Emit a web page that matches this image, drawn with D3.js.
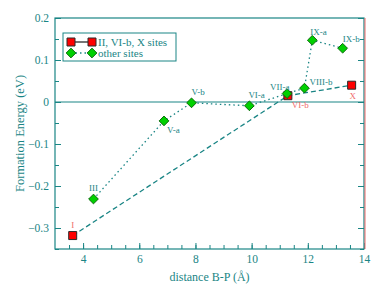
<!DOCTYPE html>
<html>
<head>
<meta charset="utf-8">
<script src="https://cdn.jsdelivr.net/npm/d3@7"></script>
<style>
  body { margin: 0; background: #fff; }
  svg, svg text { font-family: "Liberation Serif", "DejaVu Serif", "Times New Roman", serif !important; }
</style>
</head>
<body>
<svg id="chart"></svg>
<script>
// ---- Data ----
const redLabels = ['I', 'VI-b', 'X'];
const redX = [3.63, 11.29, 13.56];
const redY = [-0.318, 0.015, 0.04];

const greenLabels = ['III', 'V-a', 'V-b', 'VI-a', 'VII-a', 'VIII-b', 'IX-a', 'IX-b'];
const greenX = [4.37, 6.88, 7.86, 9.92, 11.26, 11.88, 12.16, 13.24];
const greenY = [-0.231, -0.045, -0.002, -0.009, 0.02, 0.033, 0.147, 0.128];

const xTicks = [4, 6, 8, 10, 12, 14];
const yTicks = [-0.3, -0.2, -0.1, 0, 0.1, 0.2];
const legendNames = ['II, VI-b, X sites', 'other sites'];

// label offsets (px) relative to each point
const labelOffset = {
  'I': [0, -8, 'middle'], 'VI-b': [4, 12, 'start'], 'X': [1, 14, 'middle'],
  'III': [0, -8, 'middle'], 'V-a': [3, 12, 'start'], 'V-b': [0, -8, 'start'],
  'VI-a': [-1, -8, 'start'], 'VII-a': [-17, -4, 'start'], 'VIII-b': [5, -3, 'start'],
  'IX-a': [-2, -5, 'start'], 'IX-b': [0, -6, 'start']
};

const W = 374, H = 285;
const margin = { top: 18, right: 10, bottom: 36, left: 55 };
const teal = '#1a8585';
const pink = '#f06a6a';
const serif = '"Liberation Serif", "DejaVu Serif", "Times New Roman", serif';

const svg = d3.select('#chart').attr('width', W).attr('height', H);

const x = d3.scaleLinear().domain([3, 14]).range([margin.left, W - margin.right]);
const y = d3.scaleLinear().domain([-0.35, 0.2]).range([H - margin.bottom, margin.top]);

const red = redX.map((v, i) => ({ x: v, y: redY[i], label: redLabels[i] }));
const green = greenX.map((v, i) => ({ x: v, y: greenY[i], label: greenLabels[i] }));

// ---- Axes ----
const g = svg.append('g');

// zero line
g.append('line')
  .attr('x1', x(3)).attr('x2', x(14))
  .attr('y1', y(0)).attr('y2', y(0))
  .attr('stroke', teal).attr('stroke-width', 1.2);

function inwardAxis(axis, transform) {
  const a = g.append('g').attr('transform', transform).call(axis)
    .attr('font-family', serif);
  a.select('.domain').remove();
  a.selectAll('line').attr('stroke', teal);
  a.selectAll('text').attr('fill', teal).style('font-size', '11.5px');
  return a;
}

const xMinor = d3.range(3.5, 14, 0.5);
const yMinor = d3.range(-0.35, 0.2001, 0.05);

inwardAxis(d3.axisBottom(x).tickValues(xMinor).tickSize(-4).tickFormat(''),
  `translate(0,${y(-0.35)})`);
inwardAxis(d3.axisBottom(x).tickValues(xTicks).tickSize(-6).tickPadding(6).tickFormat(d3.format('d')),
  `translate(0,${y(-0.35)})`);
inwardAxis(d3.axisLeft(y).tickValues(yMinor).tickSize(-4).tickFormat(''),
  `translate(${x(3)},0)`);
inwardAxis(d3.axisLeft(y).tickValues(yTicks).tickSize(-6).tickPadding(6).tickFormat(d => d === 0 ? '0' : d3.format('.1f')(d)),
  `translate(${x(3)},0)`);
inwardAxis(d3.axisRight(y).tickValues(yMinor).tickSize(-4).tickFormat(''),
  `translate(${x(14)},0)`);
inwardAxis(d3.axisRight(y).tickValues(yTicks).tickSize(-6).tickFormat(''),
  `translate(${x(14)},0)`);

// frame
g.append('rect')
  .attr('x', x(3)).attr('y', y(0.2))
  .attr('width', x(14) - x(3)).attr('height', y(-0.35) - y(0.2))
  .attr('fill', 'none').attr('stroke', teal).attr('stroke-width', 1.2);
g.append('line')
  .attr('x1', x(14) + 1).attr('x2', x(14) + 1)
  .attr('y1', y(0.2)).attr('y2', y(-0.35))
  .attr('stroke', pink).attr('stroke-width', 1);

// axis titles
svg.append('text')
  .attr('x', (x(3) + x(14)) / 2).attr('y', H - 4)
  .attr('text-anchor', 'middle').attr('fill', teal).style('font-size', '12px')
  .text('distance B-P  (Å)');
svg.append('text')
  .attr('transform', `translate(24,${(y(0.2) + y(-0.35)) / 2}) rotate(-90)`)
  .attr('text-anchor', 'middle').attr('fill', teal).style('font-size', '12.5px')
  .text('Formation Energy (eV)');

// ---- Lines ----
const line = d3.line().x(d => x(d.x)).y(d => y(d.y));

svg.append('path').datum(red).attr('d', line)
  .attr('fill', 'none').attr('stroke', teal).attr('stroke-width', 1.3)
  .attr('stroke-dasharray', '5,3');
svg.append('path').datum(green).attr('d', line)
  .attr('fill', 'none').attr('stroke', teal).attr('stroke-width', 1.3)
  .attr('stroke-dasharray', '1.5,3');

// ---- Markers ----
const square = d3.symbol().type(d3.symbolSquare).size(64);
const diamond = d3.symbol().type(d3.symbolDiamond2).size(60);

svg.selectAll('.sq').data(red).join('path').attr('class', 'sq')
  .attr('transform', d => `translate(${x(d.x)},${y(d.y)})`)
  .attr('d', square).attr('fill', '#ff0000').attr('stroke', '#2a2a2a').attr('stroke-width', 1);

svg.selectAll('.dm').data(green).join('path').attr('class', 'dm')
  .attr('transform', d => `translate(${x(d.x)},${y(d.y)})`)
  .attr('d', diamond).attr('fill', '#00d000').attr('stroke', '#0a6a0a').attr('stroke-width', 1);

// ---- Point labels ----
function addLabels(data, color) {
  svg.selectAll(null).data(data).join('text')
    .attr('x', d => x(d.x) + labelOffset[d.label][0])
    .attr('y', d => y(d.y) + labelOffset[d.label][1])
    .attr('text-anchor', d => labelOffset[d.label][2])
    .attr('fill', color).style('font-size', '9px')
    .text(d => d.label);
}
addLabels(green, teal);
addLabels(red, pink);

// ---- Legend ----
const lg = svg.append('g').attr('transform', 'translate(63,33)');
lg.append('rect').attr('width', 113).attr('height', 28)
  .attr('fill', '#fff').attr('stroke', teal).attr('stroke-width', 1);

const rows = [
  { name: legendNames[0], sym: square, fill: '#ff0000', stroke: '#2a2a2a', dash: null },
  { name: legendNames[1], sym: diamond, fill: '#00d000', stroke: '#0a6a0a', dash: '1.5,3' }
];
rows.forEach((r, i) => {
  const cy = 9 + i * 11;
  lg.append('line').attr('x1', 8).attr('x2', 29).attr('y1', cy).attr('y2', cy)
    .attr('stroke', r.dash ? teal : '#2a2a2a').attr('stroke-width', 1.3)
    .attr('stroke-dasharray', r.dash);
  [8, 29].forEach(px => {
    lg.append('path').attr('transform', `translate(${px},${cy})`)
      .attr('d', r.sym).attr('fill', r.fill).attr('stroke', r.stroke).attr('stroke-width', 1);
  });
  lg.append('text').attr('x', 35).attr('y', cy + 4)
    .attr('fill', teal).style('font-size', '11px').text(r.name);
});
</script>
</body>
</html>
